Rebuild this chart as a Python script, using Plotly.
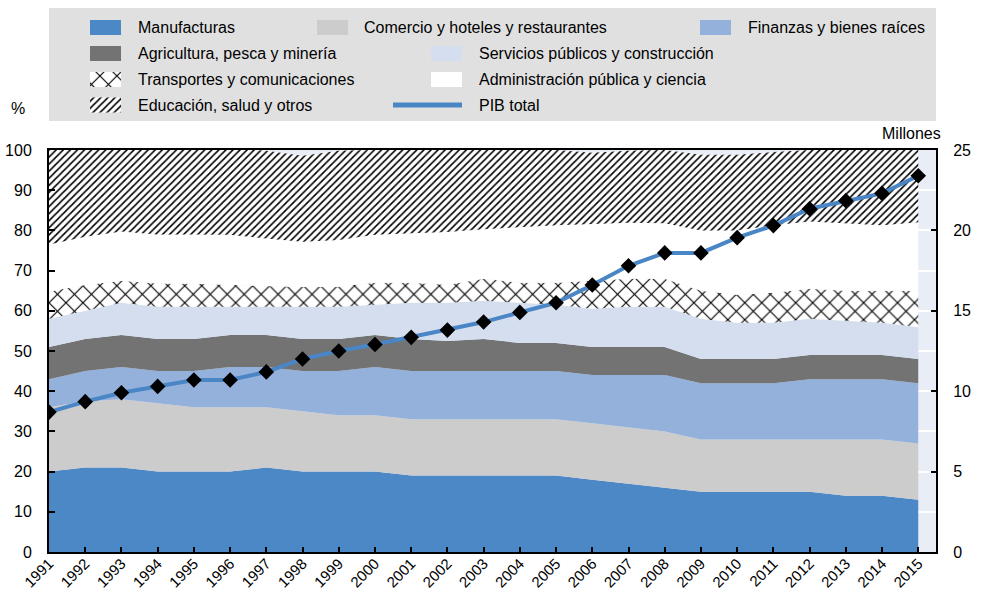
import plotly.graph_objects as go

# Shares of GDP by sector (%), 1991-2015, and total GDP (millions, right axis)
years = list(range(1991, 2016))

manufacturas = [20, 21, 21, 20, 20, 20, 21, 20, 20, 20, 19, 19, 19, 19, 19, 18, 17, 16, 15, 15, 15, 15, 14, 14, 13]
comercio = [16, 16.5, 17, 17, 16, 16, 15, 15, 14, 14, 14, 14, 14, 14, 14, 14, 14, 14, 13, 13, 13, 13, 14, 14, 14]
finanzas = [7, 7.5, 8, 8, 9, 10, 10, 10, 11, 12, 12, 12, 12, 12, 12, 12, 13, 14, 14, 14, 14, 15, 15, 15, 15]
agricultura = [8, 8, 8, 8, 8, 8, 8, 8, 8, 8, 8, 7.5, 8, 7, 7, 7, 7, 7, 6, 6, 6, 6, 6, 6, 6]
servicios = [7, 7, 8, 8, 8, 7, 7, 8, 8, 7.5, 9, 9.5, 9.5, 10, 9.5, 9.5, 10, 10, 10, 9, 9, 9, 8.5, 8, 8]
transportes = [6.8, 6.4, 5.5, 5.8, 5.7, 5.4, 5.1, 4.9, 5, 5.5, 5, 4.5, 5.5, 5, 5.5, 7, 7, 7, 7, 7, 7.5, 7.5, 7.5, 8, 9]
administracion = [11.7, 12, 12.2, 12.2, 12.3, 12.5, 11.9, 11.3, 11.6, 11.9, 12.3, 13.1, 12.3, 13.8, 14.3, 14.1, 13.9, 13.8, 15, 16, 16.8, 16.7, 16.8, 16.3, 17]
educacion = [23.5, 22, 20.3, 21, 21, 21.5, 21.8, 21.4, 22.2, 21.1, 20.7, 20.4, 19.7, 19.2, 18.7, 17.7, 17.9, 18.2, 18.8, 18.8, 18.2, 17.8, 18.2, 18.7, 18]

pib_total = [8.7, 9.35, 9.9, 10.3, 10.7, 10.7, 11.2, 12.0, 12.5, 12.9, 13.35, 13.8, 14.3, 14.9, 15.5, 16.6, 17.8, 18.6, 18.6, 19.55, 20.3, 21.35, 21.85, 22.3, 23.4]

sector_names = [
    "Manufacturas", "Comercio y hoteles y restaurantes", "Finanzas y bienes raíces",
    "Agricultura, pesca y minería", "Servicios públicos y construcción",
    "Transportes y comunicaciones", "Administración pública y ciencia",
    "Educación, salud y otros",
]
pib_name = "PIB total"

FONT = "Liberation Sans, Arial, Helvetica, sans-serif"
W, H = 981, 594

# Sector styles: (solid colour, pattern shape)
styles = [
    ("#4c87c6", ""),
    ("#cccccc", ""),
    ("#94b1dc", ""),
    ("#737373", ""),
    ("#d4deef", ""),
    ("#ffffff", "x"),
    ("#ffffff", ""),
    ("#ffffff", "/"),
]
pattern_size = {"x": 12, "/": 5}
pattern_solid = {"x": 0.18, "/": 0.32}


def pattern(shape):
    return dict(shape=shape, fgcolor="black", bgcolor="white", fgopacity=1,
                size=pattern_size[shape], solidity=pattern_solid[shape])


series = [manufacturas, comercio, finanzas, agricultura, servicios,
          transportes, administracion, educacion]

fig = go.Figure()

for name, vals, (col, pat) in zip(sector_names, series, styles):
    kw = {"fillpattern": pattern(pat)} if pat else {}
    fig.add_trace(go.Scatter(
        x=years, y=vals, name=name, stackgroup="one", mode="lines",
        line=dict(width=0, color=col), fillcolor=col, showlegend=False,
        xaxis="x", yaxis="y", **kw))

fig.add_trace(go.Scatter(
    x=years, y=pib_total, name=pib_name, mode="lines+markers",
    line=dict(color="#4a86c5", width=4),
    marker=dict(symbol="diamond", size=12, color="black"),
    showlegend=False, xaxis="x", yaxis="y2"))

# ---- custom legend panel drawn in its own pixel-space subplot ----
LX0, LX1, LY0, LY1 = 49, 936, 8, 121
fig.add_trace(go.Scatter(
    x=[LX0, LX1, LX1, LX0, LX0], y=[LY0, LY0, LY1, LY1, LY0],
    fill="toself", fillcolor="#e0e0e0", line=dict(width=0),
    mode="lines", showlegend=False, hoverinfo="skip", xaxis="x3", yaxis="y3"))

sw_w, sw_h = 31, 15
legend_items = [
    # (series index, swatch left x, text left x, row centre y)
    (0, 90, 136, 27.5),
    (1, 317, 362, 27.5),
    (2, 700, 746, 27.5),
    (3, 90, 136, 53.5),
    (4, 431, 477, 53.5),
    (5, 90, 136, 79.5),
    (6, 431, 477, 79.5),
    (7, 90, 136, 105),
]
annotations = []
for idx, sx, tx, cy in legend_items:
    col, pat = styles[idx]
    kw = {"fillpattern": pattern(pat)} if pat else {}
    y0, y1 = cy - sw_h / 2, cy + sw_h / 2
    fig.add_trace(go.Scatter(
        x=[sx, sx + sw_w, sx + sw_w, sx, sx], y=[y0, y0, y1, y1, y0],
        fill="toself", fillcolor=col, line=dict(width=0), mode="lines",
        showlegend=False, hoverinfo="skip", xaxis="x3", yaxis="y3", **kw))
    annotations.append(dict(x=tx, y=cy, xref="x3", yref="y3", text=sector_names[idx],
                            showarrow=False, xanchor="left", yanchor="middle",
                            font=dict(size=16, color="black", family=FONT)))

# PIB total legend line
fig.add_trace(go.Scatter(
    x=[393, 462], y=[105, 105], mode="lines", line=dict(color="#4a86c5", width=5),
    showlegend=False, hoverinfo="skip", xaxis="x3", yaxis="y3"))
annotations.append(dict(x=477, y=105, xref="x3", yref="y3", text=pib_name,
                        showarrow=False, xanchor="left", yanchor="middle",
                        font=dict(size=16, color="black", family=FONT)))

# axis unit labels
annotations.append(dict(x=18 / W, y=1 - 108 / H, xref="paper", yref="paper", text="%",
                        showarrow=False, xanchor="center", yanchor="middle",
                        font=dict(size=16, color="black", family=FONT)))
annotations.append(dict(x=943 / W, y=1 - 133 / H, xref="paper", yref="paper", text="Millones",
                        showarrow=False, xanchor="right", yanchor="middle",
                        font=dict(size=16, color="black", family=FONT)))

xdom = [49 / W, 936 / W]
ydom = [1 - 552 / H, 1 - 150 / H]

fig.update_layout(
    template="none",
    width=W, height=H,
    margin=dict(l=0, r=0, t=0, b=0, pad=0),
    paper_bgcolor="white",
    plot_bgcolor="#e9edf6",
    font=dict(family=FONT, size=16, color="black"),
    showlegend=False,
    annotations=annotations,
    xaxis=dict(
        domain=xdom, anchor="y", range=[1991, 2015.49], automargin=False,
        tickmode="array", tickvals=years, ticktext=[str(y) for y in years],
        tickangle=-45, ticks="inside", ticklen=5, tickwidth=2, tickcolor="black",
        showline=True, linecolor="black", linewidth=2, mirror=True,
        showgrid=False, zeroline=False, ticklabelstandoff=-5,
        tickfont=dict(size=15, family=FONT),
    ),
    yaxis=dict(
        domain=ydom, anchor="x", range=[0, 100], dtick=10, automargin=False,
        ticks="inside", ticklen=6, tickwidth=2, tickcolor="black",
        showline=True, linecolor="black", linewidth=2,
        showgrid=True, gridcolor="white", gridwidth=2, zeroline=False,
        ticklabelstandoff=12, tickfont=dict(size=16, family=FONT),
    ),
    yaxis2=dict(
        overlaying="y", side="right", anchor="x", range=[0, 25], dtick=5,
        automargin=False,
        ticks="inside", ticklen=5, tickwidth=2, tickcolor="black",
        showline=True, linecolor="black", linewidth=2,
        showgrid=False, zeroline=False,
        ticklabelstandoff=12, tickfont=dict(size=16, family=FONT),
    ),
    xaxis3=dict(domain=xdom, anchor="y3", range=[LX0, LX1], visible=False,
                fixedrange=True, automargin=False),
    yaxis3=dict(domain=[1 - LY1 / H, 1 - LY0 / H], anchor="x3", range=[LY1, LY0],
                visible=False, fixedrange=True, automargin=False),
)

fig.write_html("out.html")
